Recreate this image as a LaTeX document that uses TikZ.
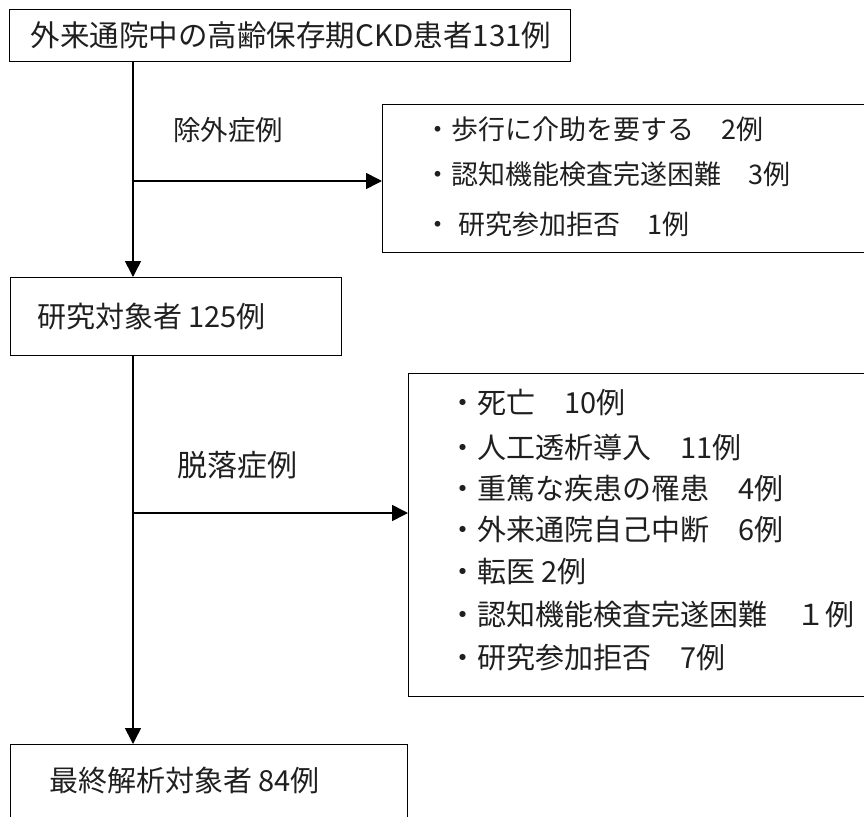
\documentclass[tikz,border=0pt]{standalone}
\usepackage{fontspec}
\setmainfont{Noto Sans CJK JP}
\usetikzlibrary{arrows.meta}
\begin{document}
\begin{tikzpicture}[x=1pt,y=-1pt,
  box/.style={draw=black, line width=1.2pt, rectangle, inner sep=0pt, anchor=north west},
  txt/.style={inner sep=0pt, text=black!88, anchor=west},
  conn/.style={line width=1.6pt, -{Triangle[length=16pt,width=16pt]}},
  plainline/.style={line width=1.6pt}]
\useasboundingbox (0,0) rectangle (864,816);
\clip (0,0) rectangle (864,816);
% boxes
\node[box, minimum width=561pt, minimum height=52pt] (b1) at (9,9) {};
\node[box, minimum width=500pt, minimum height=148pt] (ex) at (382,104) {};
\node[box, minimum width=331pt, minimum height=78pt] (b2) at (10,277) {};
\node[box, minimum width=480pt, minimum height=323pt] (dr) at (408,373) {};
\node[box, minimum width=397pt, minimum height=100pt] (b4) at (10,744) {};
% texts
\node[txt, anchor=center, font=\fontsize{29.5}{32}\selectfont] (t1) at ([xshift=1pt]b1.center) {外来通院中の高齢保存期CKD患者131例};
\node[txt, font=\fontsize{29}{32}\selectfont] (t2) at (37,316) {研究対象者 125例};
\node[txt, font=\fontsize{29}{32}\selectfont] (t4) at (49,780) {最終解析対象者 84例};
\node[txt, anchor=center, font=\fontsize{27.5}{32}\selectfont] (l1) at (228,130) {除外症例};
\node[txt, anchor=center, font=\fontsize{30}{32}\selectfont] (l2) at (237,465) {脱落症例};
% exclusion list
\begin{scope}[every node/.style={txt, font=\fontsize{27}{32}\selectfont}]
\node (e1) at (424,129) {・歩行に介助を要する　2例};
\node (e2) at (424,174) {・認知機能検査完遂困難　3例};
\node (e3) at (424,224) {・\hspace{7pt}研究参加拒否　1例};
\end{scope}
% dropout list
\begin{scope}[every node/.style={txt, font=\fontsize{29}{32}\selectfont}]
\node (d1) at (448,403) {・死亡　10例};
\node (d2) at (448,447) {・人工透析導入　11例};
\node (d3) at (448,488) {・重篤な疾患の罹患　4例};
\node (d4) at (448,530) {・外来通院自己中断　6例};
\node (d5) at (448,572) {・転医 2例};
\node (d6) at (448,615) {・認知機能検査完遂困難　１例};
\node (d7) at (448,658) {・研究参加拒否　7例};
\end{scope}
% connectors
\coordinate (j1) at (133,181);
\coordinate (j2) at (133,513);
\draw[conn] (b1.south -| j1) -- (b2.north -| j1);
\draw[conn] (j1) -- (ex.west |- j1);
\draw[conn] (b2.south -| j2) -- (b4.north -| j2);
\draw[conn] (j2) -- (dr.west |- j2);
\end{tikzpicture}
\end{document}
